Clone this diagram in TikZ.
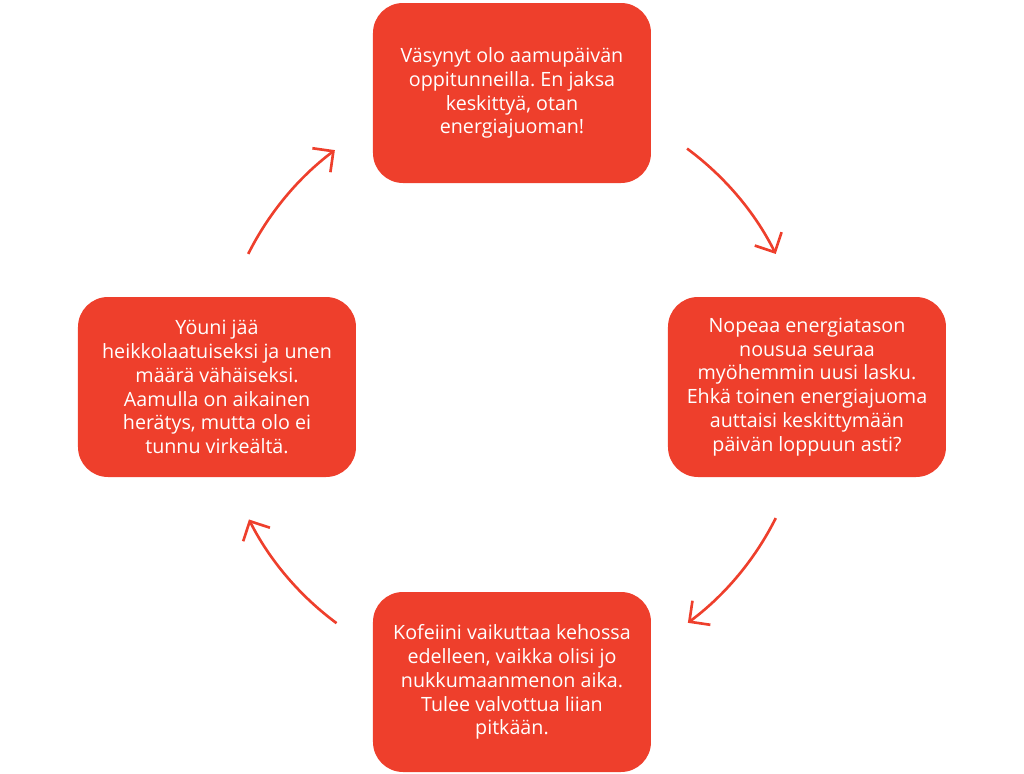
\documentclass[tikz,border=0pt]{standalone}
\usepackage{fontspec}
\setmainfont{Open Sans}
\usepackage{tikz}
\usetikzlibrary{arrows.meta}
\frenchspacing
\definecolor{cyclered}{HTML}{EE3F2C}
\tikzset{
	cyclebox/.style={fill=cyclered, draw=none, rounded corners=0.6cm,
			minimum width=5.56cm, minimum height=3.6cm, align=center,
			text=white, font=\fontsize{11.2}{13.6}\selectfont},
	cyclearrow/.style={draw=cyclered, line width=1.5pt,
			-{Straight Barb[length=3mm,width=6mm,line width=1.5pt]}}
}

\begin{document}
\begin{tikzpicture}
	\useasboundingbox (-10.24,-7.74) rectangle (10.24,7.72);
	\coordinate (mid) at (0,0);
	\node[cyclebox] (tired) at (0,5.86)
	{Väsynyt olo aamupäivän\\oppitunneilla. En jaksa\\keskittyä, otan\\energiajuoman!};
	\node[cyclebox] (spike) at (5.9,-0.02)
	{Nopeaa energiatason\\nousua seuraa\\myöhemmin uusi lasku.\\Ehkä toinen energiajuoma\\auttaisi keskittymään\\päivän loppuun asti?};
	\node[cyclebox] (caffeine) at (0,-5.92)
	{Kofeiini vaikuttaa kehossa\\edelleen, vaikka olisi jo\\nukkumaanmenon aika.\\Tulee valvottua liian\\pitkään.};
	\node[cyclebox] (sleep) at (-5.9,-0.02)
	{Yöuni jää\\heikkolaatuiseksi ja unen\\määrä vähäiseksi.\\Aamulla on aikainen\\herätys, mutta olo ei\\tunnu virkeältä.};
	% arcs round the middle, clockwise
	\foreach \from/\to in {53.6/26.6, -26.6/-53.4, -126.5/-153.1, 153.4/126.9}
	\draw[cyclearrow] ([shift={(\from:5.9)}]mid)
	arc[start angle=\from, end angle=\to, radius=5.9];
\end{tikzpicture}
\end{document}
